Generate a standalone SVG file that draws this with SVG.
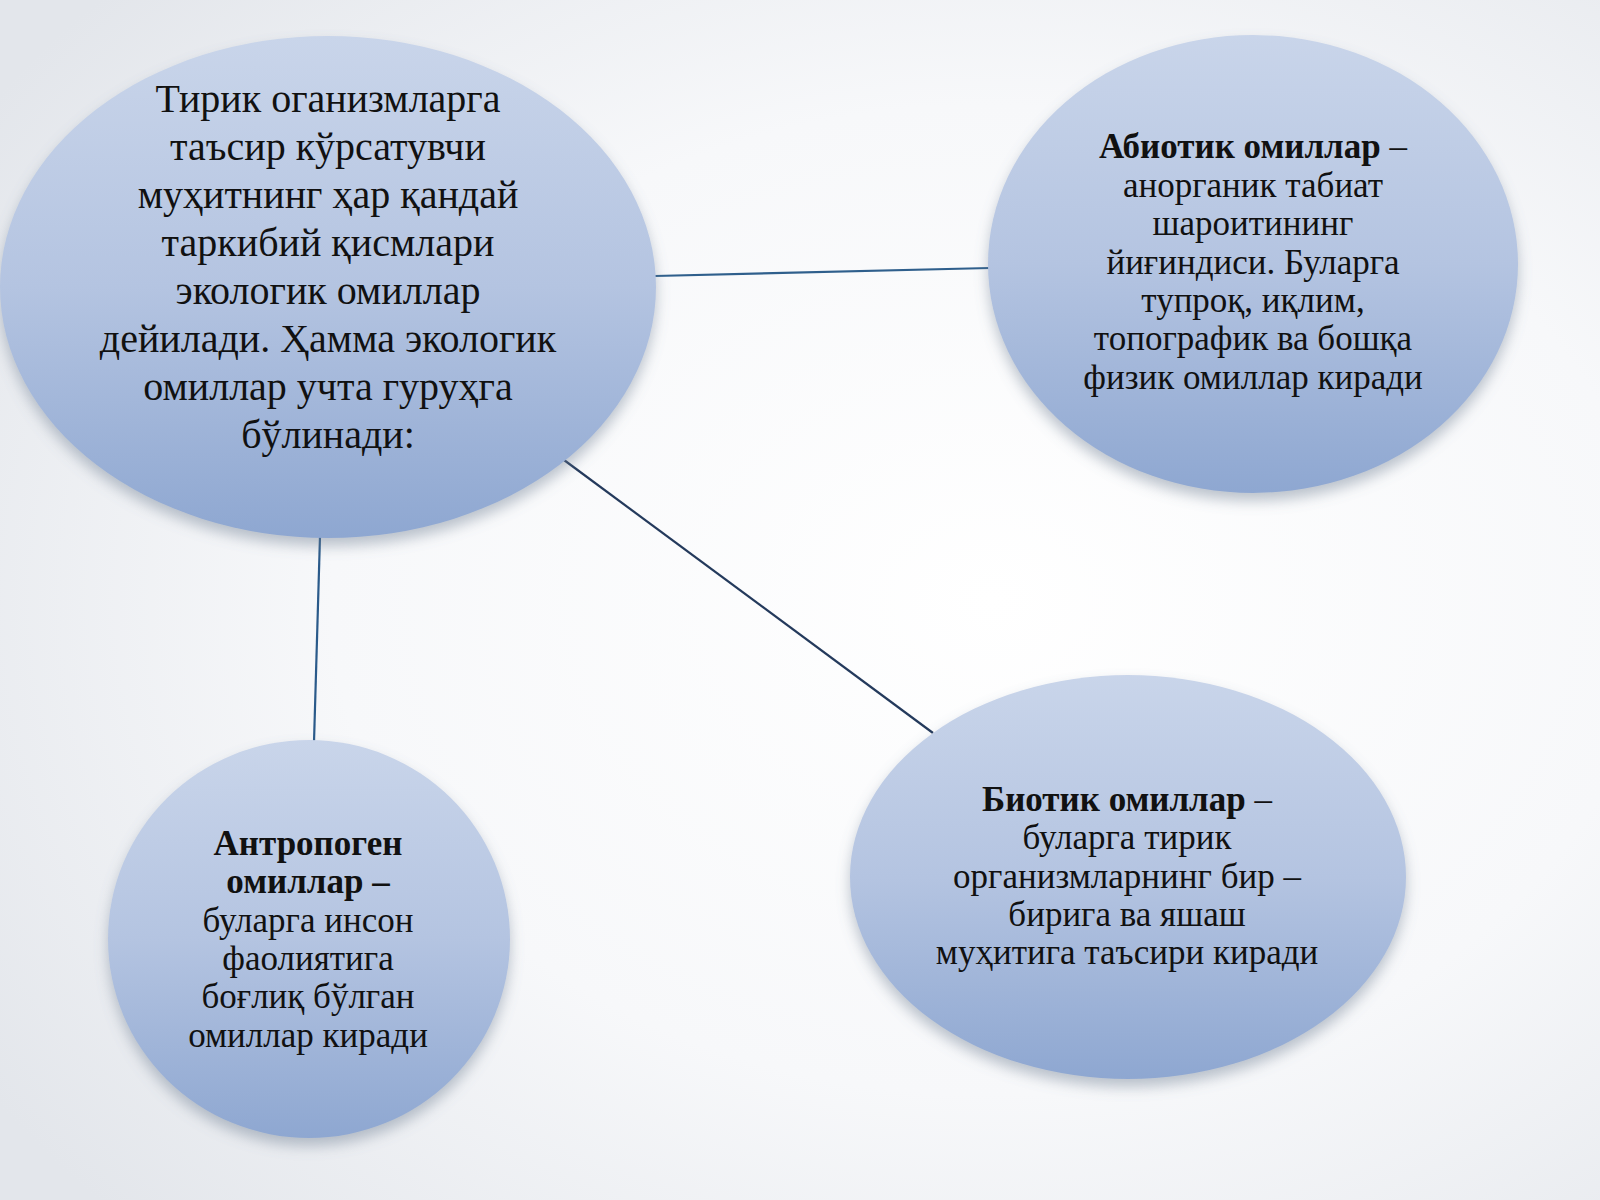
<svg xmlns="http://www.w3.org/2000/svg" width="1600" height="1200" viewBox="0 0 1600 1200">
  <defs>
    <radialGradient id="bg" cx="0.62" cy="0.5" r="0.75">
      <stop offset="0" stop-color="#ffffff"/>
      <stop offset="0.55" stop-color="#f7f8fa"/>
      <stop offset="1" stop-color="#e3e6eb"/>
    </radialGradient>
    <linearGradient id="fill" x1="0" y1="0" x2="0" y2="1">
      <stop offset="0" stop-color="#c9d5ea"/>
      <stop offset="0.5" stop-color="#b4c4e1"/>
      <stop offset="1" stop-color="#8ea7d1"/>
    </linearGradient>
    <filter id="shadow" x="-20%" y="-20%" width="140%" height="150%">
      <feDropShadow dx="0" dy="8" stdDeviation="7" flood-color="#6b7a90" flood-opacity="0.45"/>
    </filter>
  </defs>
  <style>
    .node { fill: url(#fill); filter: url(#shadow); }
    .t { font-family: "Liberation Serif", "Times New Roman", serif; fill: #111111; text-anchor: middle; }
    .main { font-size: 40px; }
    .small { font-size: 35px; }
    .b { font-weight: bold; }
    .conn { stroke-width: 2.2; fill: none; }
  </style>
  <rect width="1600" height="1200" fill="url(#bg)"/>

  <g id="connectors">
    <line class="conn" x1="655" y1="276" x2="990" y2="268" stroke="#2f5f8c"/>
    <line class="conn" x1="564" y1="460" x2="933" y2="733" stroke="#243a5c"/>
    <line class="conn" x1="320" y1="536" x2="314" y2="742" stroke="#2a5a8a"/>
  </g>

  <g id="main">
    <ellipse class="node" cx="328" cy="287" rx="328" ry="251"/>
    <text class="t main" x="328" y="112">Тирик оганизмларга</text>
    <text class="t main" x="328" y="160">таъсир кўрсатувчи</text>
    <text class="t main" x="328" y="208">муҳитнинг ҳар қандай</text>
    <text class="t main" x="328" y="256">таркибий қисмлари</text>
    <text class="t main" x="328" y="304">экологик омиллар</text>
    <text class="t main" x="328" y="352">дейилади. Ҳамма экологик</text>
    <text class="t main" x="328" y="400">омиллар учта гуруҳга</text>
    <text class="t main" x="328" y="448">бўлинади:</text>
  </g>

  <g id="abiotic">
    <ellipse class="node" cx="1253" cy="264" rx="265" ry="229"/>
    <text class="t small" x="1253" y="158"><tspan class="b">Абиотик омиллар</tspan> –</text>
    <text class="t small" x="1253" y="197">анорганик табиат</text>
    <text class="t small" x="1253" y="235">шароитининг</text>
    <text class="t small" x="1253" y="274">йиғиндиси. Буларга</text>
    <text class="t small" x="1253" y="312">тупроқ, иқлим,</text>
    <text class="t small" x="1253" y="350">топографик ва бошқа</text>
    <text class="t small" x="1253" y="389">физик омиллар киради</text>
  </g>

  <g id="antropogen">
    <ellipse class="node" cx="309" cy="939" rx="201" ry="199"/>
    <text class="t small b" x="308" y="855">Антропоген</text>
    <text class="t small b" x="308" y="893">омиллар –</text>
    <text class="t small" x="308" y="932">буларга инсон</text>
    <text class="t small" x="308" y="970">фаолиятига</text>
    <text class="t small" x="308" y="1008">боғлиқ бўлган</text>
    <text class="t small" x="308" y="1047">омиллар киради</text>
  </g>

  <g id="biotic">
    <ellipse class="node" cx="1128" cy="877" rx="278" ry="202"/>
    <text class="t small" x="1127" y="811"><tspan class="b">Биотик омиллар</tspan> –</text>
    <text class="t small" x="1127" y="849">буларга тирик</text>
    <text class="t small" x="1127" y="888">организмларнинг бир –</text>
    <text class="t small" x="1127" y="926">бирига ва яшаш</text>
    <text class="t small" x="1127" y="964">муҳитига таъсири киради</text>
  </g>
</svg>
